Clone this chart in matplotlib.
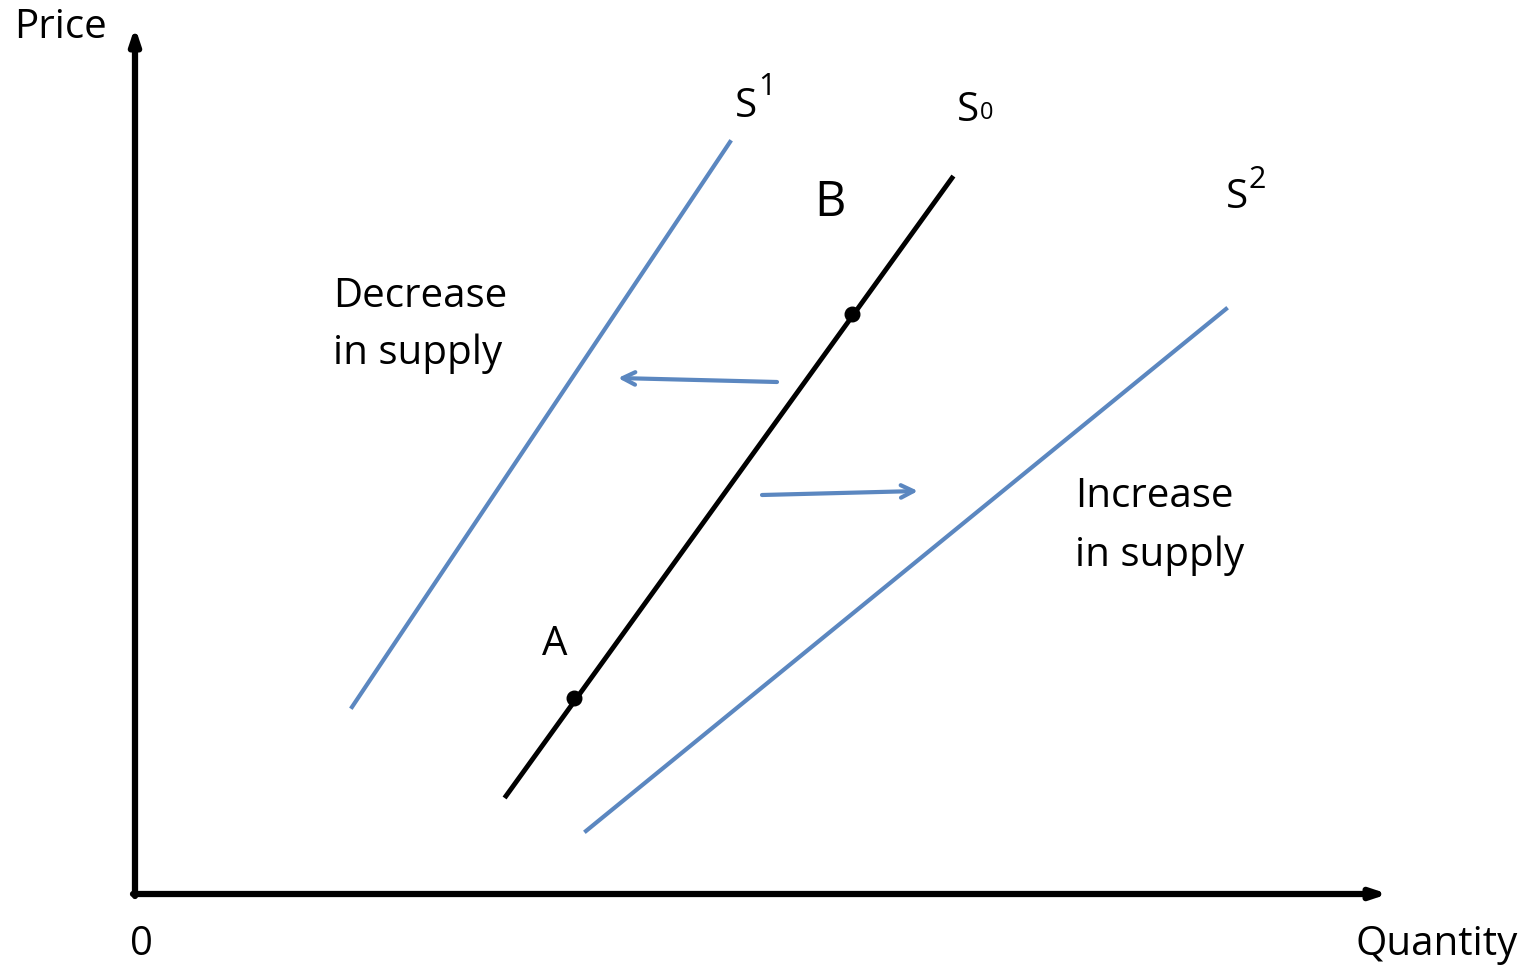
"""Shifts in the supply curve."""
import matplotlib.pyplot as plt

# diagram coordinates (pixel-like units, y measured downward)
s0_x = [506, 952]
s0_y = [797, 179]
s1_x = [352, 730]
s1_y = [708, 143]
s2_x = [586, 1226]
s2_y = [832, 310]
points_x = [574, 852]
points_y = [699, 315]
shift_left = [(777, 383), (618, 379)]
shift_right = [(762, 496), (918, 492)]

BLUE = '#5b87c0'


def main():
    """Draw the diagram."""
    plt.rcParams['font.family'] = ['Open Sans', 'DejaVu Sans']
    fig = plt.figure(figsize=(15.35, 9.7), dpi=100)
    ax = fig.add_axes([0, 0, 1, 1])
    ax.set_xlim(0, 1535)
    ax.set_ylim(970, 0)
    ax.axis('off')

    # axes with arrows
    ax.annotate('', xy=(135, 28), xytext=(135, 897),
                arrowprops=dict(arrowstyle='-|>,head_length=0.9,head_width=0.3',
                                color='black', lw=4.5, shrinkA=0, shrinkB=0))
    ax.annotate('', xy=(1388, 895), xytext=(133, 895),
                arrowprops=dict(arrowstyle='-|>,head_length=0.9,head_width=0.3',
                                color='black', lw=4.5, shrinkA=0, shrinkB=0))

    ax.plot(s1_x, s1_y, color=BLUE, lw=3)
    ax.plot(s2_x, s2_y, color=BLUE, lw=3)
    ax.plot(s0_x, s0_y, color='black', lw=3.5)
    ax.scatter(points_x, points_y, color='black', s=110, zorder=3)

    for start, end in (shift_left, shift_right):
        ax.annotate('', xy=end, xytext=start,
                    arrowprops=dict(arrowstyle='->,head_length=0.9,head_width=0.45',
                                    color=BLUE, lw=3, shrinkA=0, shrinkB=0))

    fs = 29
    ax.text(60, 28, 'Price', fontsize=fs, ha='center', va='center')
    ax.text(141, 945, '0', fontsize=fs, ha='center', va='center')
    ax.text(1437, 945, 'Quantity', fontsize=fs, ha='center', va='center')
    ax.text(555, 645, 'A', fontsize=fs, ha='center', va='center')
    ax.text(830, 203, 'B', fontsize=35, ha='center', va='center')

    # curve labels: S with superscript / small index
    ax.text(746, 107, 'S', fontsize=fs, ha='center', va='center')
    ax.text(767, 87, '1', fontsize=22, ha='center', va='center')
    ax.text(968, 111, 'S', fontsize=fs, ha='center', va='center')
    ax.text(987, 113, '0', fontsize=17, ha='center', va='center')
    ax.text(1237, 198, 'S', fontsize=fs, ha='center', va='center')
    ax.text(1257, 180, '2', fontsize=22, ha='center', va='center')

    ax.text(333, 325, 'Decrease\nin supply', fontsize=fs, ha='left', va='center',
            linespacing=1.55)
    ax.text(1075, 526, 'Increase\nin supply', fontsize=fs, ha='left', va='center',
            linespacing=1.6)

    fig.savefig('out.png', dpi=100)


if __name__ == "__main__":
    main()
